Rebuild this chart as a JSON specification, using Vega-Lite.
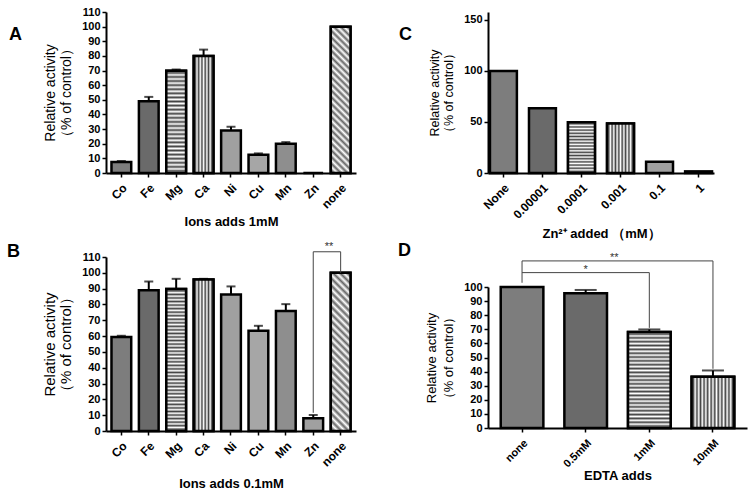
{
  "$schema": "https://vega.github.io/schema/vega-lite/v6.json",
  "padding": {"left": 7, "top": 6, "right": 2, "bottom": 2},
  "background": "white",
  "config": {
    "font": "Liberation Sans",
    "view": {"stroke": null},
    "axis": {
      "domainColor": "black", "domainWidth": 2, "tickColor": "black", "tickWidth": 1.5, "tickSize": 4,
      "labelColor": "black", "labelFont": "Liberation Sans", "labelFontWeight": "bold", "labelFontSize": 11, "labelPadding": 2, "labelOverlap": false,
      "titleFont": "Liberation Sans", "titleColor": "black", "grid": false
    },
    "title": {"font": "Liberation Sans", "fontSize": 18, "fontWeight": "bold", "color": "black", "anchor": "start", "frame": "group", "offset": 0, "baseline": "alphabetic"}
  },
  "datasets": {
    "A": [
      {"cat": "Co", "v": 7.5, "hi": 8.2},
      {"cat": "Fe", "v": 49.1, "hi": 52},
      {"cat": "Mg", "v": 69.8, "hi": 70.7},
      {"cat": "Ca", "v": 80, "hi": 84.3},
      {"cat": "Ni", "v": 29.1, "hi": 31.6},
      {"cat": "Cu", "v": 12.5, "hi": 13.4},
      {"cat": "Mn", "v": 20, "hi": 21.1},
      {"cat": "Zn", "v": 0, "hi": null},
      {"cat": "none", "v": 100, "hi": null}
    ],
    "B": [
      {"cat": "Co", "v": 59.4, "hi": 60.2},
      {"cat": "Fe", "v": 89, "hi": 94.5},
      {"cat": "Mg", "v": 89.7, "hi": 96.2},
      {"cat": "Ca", "v": 95.8, "hi": 96.2},
      {"cat": "Ni", "v": 86.3, "hi": 91.4},
      {"cat": "Cu", "v": 63.4, "hi": 66.5},
      {"cat": "Mn", "v": 75.8, "hi": 80.2},
      {"cat": "Zn", "v": 8, "hi": 10.1},
      {"cat": "none", "v": 100, "hi": null}
    ],
    "C": [
      {"cat": "None", "v": 100},
      {"cat": "0.00001", "v": 63.5},
      {"cat": "0.0001", "v": 49.8},
      {"cat": "0.001", "v": 48.5},
      {"cat": "0.1", "v": 11},
      {"cat": "1", "v": 1.6}
    ],
    "D": [
      {"cat": "none", "v": 100, "hi": null},
      {"cat": "0.5mM", "v": 95.5, "hi": 97.9},
      {"cat": "1mM", "v": 68, "hi": 69.9},
      {"cat": "10mM", "v": 36.3, "hi": 40.8}
    ]
  },
  "bounds": "full",
  "spacing": 42,
  "resolve": {"scale": {"x": "independent", "y": "independent", "fill": "independent"}},
  "hconcat": [
    {
      "bounds": "flush",
      "spacing": 84,
      "resolve": {"scale": {"x": "independent", "y": "independent", "fill": "independent"}},
      "vconcat": [
        {
          "width": 250, "height": 161,
          "title": {"text": "A", "dx": -97, "dy": 42},
          "encoding": {
            "x": {"field": "cat", "type": "nominal",
              "scale": {"domain": ["Co","Fe","Mg","Ca","Ni","Cu","Mn","Zn","none"], "paddingInner": 0.28, "paddingOuter": 0.2},
              "axis": {"title": "Ions adds 1mM", "labelAngle": -45, "labelFontSize": 12, "labelPadding": 5, "titleFontSize": 13, "titleFontWeight": "bold", "titlePadding": 5}},
            "y": {"field": "v", "type": "quantitative", "scale": {"domain": [0, 110], "nice": false},
              "axis": {"values": [0,10,20,30,40,50,60,70,80,90,100,110], "title": ["Relative activity", "（% of control）"], "titleFontSize": 14, "titleFontWeight": "normal", "titleLineHeight": 16, "titlePadding": 8}}
          },
          "layer": [
            {"data": {"name": "A"}, "mark": {"type": "bar", "stroke": "black", "strokeWidth": 2.5},
              "encoding": {
                "fill": {"field": "cat", "type": "nominal", "legend": null,
                  "scale": {"domain": ["Co","Fe","Mg","Ca","Ni","Cu","Mn","Zn","none"], "range": ["#7d7d7d","#6a6a6a","#b4b4b4","#b4b4b4","#a0a0a0","#a6a6a6","#8e8e8e","#a0a0a0","#d2d2d2"]}}
              }},
            {"data": {"name": "A"}, "transform": [{"filter": "datum.cat == 'Mg'"}],
              "mark": {"type": "bar", "stroke": "black", "strokeWidth": 2.5,
                "fill": {"gradient": "linear", "x1": 0, "y1": 0, "x2": 0, "y2": 1, "stops": [{"offset":0,"color":"#fff"},{"offset":0.02,"color":"#444"},{"offset":0.04,"color":"#fff"},{"offset":0.06,"color":"#444"},{"offset":0.08,"color":"#fff"},{"offset":0.1,"color":"#444"},{"offset":0.12,"color":"#fff"},{"offset":0.14,"color":"#444"},{"offset":0.16,"color":"#fff"},{"offset":0.18,"color":"#444"},{"offset":0.2,"color":"#fff"},{"offset":0.22,"color":"#444"},{"offset":0.24,"color":"#fff"},{"offset":0.26,"color":"#444"},{"offset":0.28,"color":"#fff"},{"offset":0.3,"color":"#444"},{"offset":0.32,"color":"#fff"},{"offset":0.34,"color":"#444"},{"offset":0.36,"color":"#fff"},{"offset":0.38,"color":"#444"},{"offset":0.4,"color":"#fff"},{"offset":0.42,"color":"#444"},{"offset":0.44,"color":"#fff"},{"offset":0.46,"color":"#444"},{"offset":0.48,"color":"#fff"},{"offset":0.5,"color":"#444"},{"offset":0.52,"color":"#fff"},{"offset":0.54,"color":"#444"},{"offset":0.56,"color":"#fff"},{"offset":0.58,"color":"#444"},{"offset":0.6,"color":"#fff"},{"offset":0.62,"color":"#444"},{"offset":0.64,"color":"#fff"},{"offset":0.66,"color":"#444"},{"offset":0.68,"color":"#fff"},{"offset":0.7,"color":"#444"},{"offset":0.72,"color":"#fff"},{"offset":0.74,"color":"#444"},{"offset":0.76,"color":"#fff"},{"offset":0.78,"color":"#444"},{"offset":0.8,"color":"#fff"},{"offset":0.82,"color":"#444"},{"offset":0.84,"color":"#fff"},{"offset":0.86,"color":"#444"},{"offset":0.88,"color":"#fff"},{"offset":0.9,"color":"#444"},{"offset":0.92,"color":"#fff"},{"offset":0.94,"color":"#444"},{"offset":0.96,"color":"#fff"},{"offset":0.98,"color":"#444"},{"offset":1,"color":"#fff"}]}}},
            {"data": {"name": "A"}, "transform": [{"filter": "datum.cat == 'Ca'"}],
              "mark": {"type": "bar", "stroke": "black", "strokeWidth": 2.5,
                "fill": {"gradient": "linear", "x1": 0, "y1": 0, "x2": 1, "y2": 0, "stops": [{"offset":0,"color":"#fff"},{"offset":0.0833,"color":"#444"},{"offset":0.1667,"color":"#fff"},{"offset":0.25,"color":"#444"},{"offset":0.3333,"color":"#fff"},{"offset":0.4167,"color":"#444"},{"offset":0.5,"color":"#fff"},{"offset":0.5833,"color":"#444"},{"offset":0.6667,"color":"#fff"},{"offset":0.75,"color":"#444"},{"offset":0.8333,"color":"#fff"},{"offset":0.9167,"color":"#444"},{"offset":1,"color":"#fff"}]}}},
            {"data": {"name": "A"}, "transform": [{"filter": "datum.cat == 'none'"}],
              "mark": {"type": "bar", "stroke": "black", "strokeWidth": 2.5,
                "fill": {"gradient": "linear", "x1": 0, "y1": 1, "x2": 0.149, "y2": -0.114, "stops": [{"offset":0,"color":"#fff"},{"offset":0.02,"color":"#666"},{"offset":0.04,"color":"#fff"},{"offset":0.06,"color":"#666"},{"offset":0.08,"color":"#fff"},{"offset":0.1,"color":"#666"},{"offset":0.12,"color":"#fff"},{"offset":0.14,"color":"#666"},{"offset":0.16,"color":"#fff"},{"offset":0.18,"color":"#666"},{"offset":0.2,"color":"#fff"},{"offset":0.22,"color":"#666"},{"offset":0.24,"color":"#fff"},{"offset":0.26,"color":"#666"},{"offset":0.28,"color":"#fff"},{"offset":0.3,"color":"#666"},{"offset":0.32,"color":"#fff"},{"offset":0.34,"color":"#666"},{"offset":0.36,"color":"#fff"},{"offset":0.38,"color":"#666"},{"offset":0.4,"color":"#fff"},{"offset":0.42,"color":"#666"},{"offset":0.44,"color":"#fff"},{"offset":0.46,"color":"#666"},{"offset":0.48,"color":"#fff"},{"offset":0.5,"color":"#666"},{"offset":0.52,"color":"#fff"},{"offset":0.54,"color":"#666"},{"offset":0.56,"color":"#fff"},{"offset":0.58,"color":"#666"},{"offset":0.6,"color":"#fff"},{"offset":0.62,"color":"#666"},{"offset":0.64,"color":"#fff"},{"offset":0.66,"color":"#666"},{"offset":0.68,"color":"#fff"},{"offset":0.7,"color":"#666"},{"offset":0.72,"color":"#fff"},{"offset":0.74,"color":"#666"},{"offset":0.76,"color":"#fff"},{"offset":0.78,"color":"#666"},{"offset":0.8,"color":"#fff"},{"offset":0.82,"color":"#666"},{"offset":0.84,"color":"#fff"},{"offset":0.86,"color":"#666"},{"offset":0.88,"color":"#fff"},{"offset":0.9,"color":"#666"},{"offset":0.92,"color":"#fff"},{"offset":0.94,"color":"#666"},{"offset":0.96,"color":"#fff"},{"offset":0.98,"color":"#666"},{"offset":1,"color":"#fff"}]}}},
            {"data": {"name": "A"}, "transform": [{"filter": "isValid(datum.hi)"}], "mark": {"type": "rule", "strokeWidth": 2, "color": "black"},
              "encoding": {"y2": {"field": "hi"}}},
            {"data": {"name": "A"}, "transform": [{"filter": "isValid(datum.hi)"}], "mark": {"type": "tick", "thickness": 2, "size": 9, "color": "black"},
              "encoding": {"y": {"field": "hi", "type": "quantitative", "axis": {"values": [0,10,20,30,40,50,60,70,80,90,100,110], "title": ["Relative activity", "（% of control）"], "titleFontSize": 14, "titleFontWeight": "normal", "titleLineHeight": 16, "titlePadding": 8}}}}
          ]
        },
        {
          "width": 250, "height": 174,
          "title": {"text": "B", "dx": -99, "dy": 24},
          "encoding": {
            "x": {"field": "cat", "type": "nominal",
              "scale": {"domain": ["Co","Fe","Mg","Ca","Ni","Cu","Mn","Zn","none"], "paddingInner": 0.28, "paddingOuter": 0.2},
              "axis": {"title": "Ions adds 0.1mM", "labelAngle": -45, "labelFontSize": 12, "labelPadding": 5, "titleFontSize": 13, "titleFontWeight": "bold", "titlePadding": 9}},
            "y": {"field": "v", "type": "quantitative", "scale": {"domain": [0, 110], "nice": false},
              "axis": {"values": [0,10,20,30,40,50,60,70,80,90,100,110], "title": ["Relative activity", "（% of control）"], "titleFontSize": 15, "titleFontWeight": "normal", "titleLineHeight": 16, "titlePadding": 8}}
          },
          "layer": [
            {"data": {"name": "B"}, "mark": {"type": "bar", "stroke": "black", "strokeWidth": 2.5},
              "encoding": {
                "fill": {"field": "cat", "type": "nominal", "legend": null,
                  "scale": {"domain": ["Co","Fe","Mg","Ca","Ni","Cu","Mn","Zn","none"], "range": ["#7d7d7d","#6a6a6a","#b4b4b4","#b4b4b4","#a0a0a0","#a6a6a6","#8e8e8e","#a0a0a0","#d2d2d2"]}}
              }},
            {"data": {"name": "B"}, "transform": [{"filter": "datum.cat == 'Mg'"}],
              "mark": {"type": "bar", "stroke": "black", "strokeWidth": 2.5,
                "fill": {"gradient": "linear", "x1": 0, "y1": 0, "x2": 0, "y2": 1, "stops": [{"offset":0,"color":"#fff"},{"offset":0.0125,"color":"#444"},{"offset":0.025,"color":"#fff"},{"offset":0.0375,"color":"#444"},{"offset":0.05,"color":"#fff"},{"offset":0.0625,"color":"#444"},{"offset":0.075,"color":"#fff"},{"offset":0.0875,"color":"#444"},{"offset":0.1,"color":"#fff"},{"offset":0.1125,"color":"#444"},{"offset":0.125,"color":"#fff"},{"offset":0.1375,"color":"#444"},{"offset":0.15,"color":"#fff"},{"offset":0.1625,"color":"#444"},{"offset":0.175,"color":"#fff"},{"offset":0.1875,"color":"#444"},{"offset":0.2,"color":"#fff"},{"offset":0.2125,"color":"#444"},{"offset":0.225,"color":"#fff"},{"offset":0.2375,"color":"#444"},{"offset":0.25,"color":"#fff"},{"offset":0.2625,"color":"#444"},{"offset":0.275,"color":"#fff"},{"offset":0.2875,"color":"#444"},{"offset":0.3,"color":"#fff"},{"offset":0.3125,"color":"#444"},{"offset":0.325,"color":"#fff"},{"offset":0.3375,"color":"#444"},{"offset":0.35,"color":"#fff"},{"offset":0.3625,"color":"#444"},{"offset":0.375,"color":"#fff"},{"offset":0.3875,"color":"#444"},{"offset":0.4,"color":"#fff"},{"offset":0.4125,"color":"#444"},{"offset":0.425,"color":"#fff"},{"offset":0.4375,"color":"#444"},{"offset":0.45,"color":"#fff"},{"offset":0.4625,"color":"#444"},{"offset":0.475,"color":"#fff"},{"offset":0.4875,"color":"#444"},{"offset":0.5,"color":"#fff"},{"offset":0.5125,"color":"#444"},{"offset":0.525,"color":"#fff"},{"offset":0.5375,"color":"#444"},{"offset":0.55,"color":"#fff"},{"offset":0.5625,"color":"#444"},{"offset":0.575,"color":"#fff"},{"offset":0.5875,"color":"#444"},{"offset":0.6,"color":"#fff"},{"offset":0.6125,"color":"#444"},{"offset":0.625,"color":"#fff"},{"offset":0.6375,"color":"#444"},{"offset":0.65,"color":"#fff"},{"offset":0.6625,"color":"#444"},{"offset":0.675,"color":"#fff"},{"offset":0.6875,"color":"#444"},{"offset":0.7,"color":"#fff"},{"offset":0.7125,"color":"#444"},{"offset":0.725,"color":"#fff"},{"offset":0.7375,"color":"#444"},{"offset":0.75,"color":"#fff"},{"offset":0.7625,"color":"#444"},{"offset":0.775,"color":"#fff"},{"offset":0.7875,"color":"#444"},{"offset":0.8,"color":"#fff"},{"offset":0.8125,"color":"#444"},{"offset":0.825,"color":"#fff"},{"offset":0.8375,"color":"#444"},{"offset":0.85,"color":"#fff"},{"offset":0.8625,"color":"#444"},{"offset":0.875,"color":"#fff"},{"offset":0.8875,"color":"#444"},{"offset":0.9,"color":"#fff"},{"offset":0.9125,"color":"#444"},{"offset":0.925,"color":"#fff"},{"offset":0.9375,"color":"#444"},{"offset":0.95,"color":"#fff"},{"offset":0.9625,"color":"#444"},{"offset":0.975,"color":"#fff"},{"offset":0.9875,"color":"#444"},{"offset":1,"color":"#fff"}]}}},
            {"data": {"name": "B"}, "transform": [{"filter": "datum.cat == 'Ca'"}],
              "mark": {"type": "bar", "stroke": "black", "strokeWidth": 2.5,
                "fill": {"gradient": "linear", "x1": 0, "y1": 0, "x2": 1, "y2": 0, "stops": [{"offset":0,"color":"#fff"},{"offset":0.0833,"color":"#444"},{"offset":0.1667,"color":"#fff"},{"offset":0.25,"color":"#444"},{"offset":0.3333,"color":"#fff"},{"offset":0.4167,"color":"#444"},{"offset":0.5,"color":"#fff"},{"offset":0.5833,"color":"#444"},{"offset":0.6667,"color":"#fff"},{"offset":0.75,"color":"#444"},{"offset":0.8333,"color":"#fff"},{"offset":0.9167,"color":"#444"},{"offset":1,"color":"#fff"}]}}},
            {"data": {"name": "B"}, "transform": [{"filter": "datum.cat == 'none'"}],
              "mark": {"type": "bar", "stroke": "black", "strokeWidth": 2.5,
                "fill": {"gradient": "linear", "x1": 0, "y1": 1, "x2": 0.1385, "y2": -0.108, "stops": [{"offset":0,"color":"#fff"},{"offset":0.02,"color":"#666"},{"offset":0.04,"color":"#fff"},{"offset":0.06,"color":"#666"},{"offset":0.08,"color":"#fff"},{"offset":0.1,"color":"#666"},{"offset":0.12,"color":"#fff"},{"offset":0.14,"color":"#666"},{"offset":0.16,"color":"#fff"},{"offset":0.18,"color":"#666"},{"offset":0.2,"color":"#fff"},{"offset":0.22,"color":"#666"},{"offset":0.24,"color":"#fff"},{"offset":0.26,"color":"#666"},{"offset":0.28,"color":"#fff"},{"offset":0.3,"color":"#666"},{"offset":0.32,"color":"#fff"},{"offset":0.34,"color":"#666"},{"offset":0.36,"color":"#fff"},{"offset":0.38,"color":"#666"},{"offset":0.4,"color":"#fff"},{"offset":0.42,"color":"#666"},{"offset":0.44,"color":"#fff"},{"offset":0.46,"color":"#666"},{"offset":0.48,"color":"#fff"},{"offset":0.5,"color":"#666"},{"offset":0.52,"color":"#fff"},{"offset":0.54,"color":"#666"},{"offset":0.56,"color":"#fff"},{"offset":0.58,"color":"#666"},{"offset":0.6,"color":"#fff"},{"offset":0.62,"color":"#666"},{"offset":0.64,"color":"#fff"},{"offset":0.66,"color":"#666"},{"offset":0.68,"color":"#fff"},{"offset":0.7,"color":"#666"},{"offset":0.72,"color":"#fff"},{"offset":0.74,"color":"#666"},{"offset":0.76,"color":"#fff"},{"offset":0.78,"color":"#666"},{"offset":0.8,"color":"#fff"},{"offset":0.82,"color":"#666"},{"offset":0.84,"color":"#fff"},{"offset":0.86,"color":"#666"},{"offset":0.88,"color":"#fff"},{"offset":0.9,"color":"#666"},{"offset":0.92,"color":"#fff"},{"offset":0.94,"color":"#666"},{"offset":0.96,"color":"#fff"},{"offset":0.98,"color":"#666"},{"offset":1,"color":"#fff"}]}}},
            {"data": {"name": "B"}, "transform": [{"filter": "isValid(datum.hi)"}], "mark": {"type": "rule", "strokeWidth": 2, "color": "black"},
              "encoding": {"y2": {"field": "hi"}}},
            {"data": {"name": "B"}, "transform": [{"filter": "isValid(datum.hi)"}], "mark": {"type": "tick", "thickness": 2, "size": 9, "color": "black"},
              "encoding": {"y": {"field": "hi", "type": "quantitative", "axis": {"values": [0,10,20,30,40,50,60,70,80,90,100,110], "title": ["Relative activity", "（% of control）"], "titleFontSize": 15, "titleFontWeight": "normal", "titleLineHeight": 16, "titlePadding": 8}}}},
            {"data": {"values": [{"cat": "Zn", "cat2": "none", "y": 113.3}]}, "mark": {"type": "rule", "strokeWidth": 1, "color": "#444"},
              "encoding": {"x2": {"field": "cat2"}, "y": {"field": "y", "type": "quantitative", "axis": {"values": [0,10,20,30,40,50,60,70,80,90,100,110], "title": ["Relative activity", "（% of control）"], "titleFontSize": 15, "titleFontWeight": "normal", "titleLineHeight": 16, "titlePadding": 8}}}},
            {"data": {"values": [{"cat": "Zn", "lo": 11.5, "hi": 113.3}, {"cat": "none", "lo": 100, "hi": 113.3}]}, "mark": {"type": "rule", "strokeWidth": 1, "color": "#444"},
              "encoding": {"y": {"field": "lo", "type": "quantitative", "axis": {"values": [0,10,20,30,40,50,60,70,80,90,100,110], "title": ["Relative activity", "（% of control）"], "titleFontSize": 15, "titleFontWeight": "normal", "titleLineHeight": 16, "titlePadding": 8}}, "y2": {"field": "hi"}}},
            {"data": {"values": [{"cat": "Zn", "y": 113.3, "t": "**"}]}, "mark": {"type": "text", "fontSize": 11, "color": "#333", "baseline": "alphabetic", "dy": -2},
              "encoding": {"x": {"field": "cat", "type": "nominal", "bandPosition": 1.3}, "y": {"field": "y", "type": "quantitative", "axis": {"values": [0,10,20,30,40,50,60,70,80,90,100,110], "title": ["Relative activity", "（% of control）"], "titleFontSize": 15, "titleFontWeight": "normal", "titleLineHeight": 16, "titlePadding": 8}}, "text": {"field": "t"}}}
          ]
        }
      ]
    },
    {
      "bounds": "flush",
      "spacing": 114,
      "resolve": {"scale": {"x": "independent", "y": "independent", "fill": "independent"}},
      "vconcat": [
        {
          "width": 226, "height": 161,
          "title": {"text": "C", "dx": -89, "dy": 36},
          "encoding": {
            "x": {"field": "cat", "type": "nominal",
              "scale": {"domain": ["None","0.00001","0.0001","0.001","0.1","1"], "paddingInner": 0.31, "paddingOuter": 0.05},
              "axis": {"title": "Zn²⁺ added （mM）", "labelAngle": -45, "labelFontSize": 12, "labelPadding": 5, "titleFontSize": 13, "titleFontWeight": "bold", "titlePadding": 7}},
            "y": {"field": "v", "type": "quantitative", "scale": {"domain": [0, 157.8], "nice": false},
              "axis": {"values": [0, 50, 100, 150], "title": ["Relative activity", "（% of control）"], "titleFontSize": 12.5, "titleFontWeight": "normal", "titleLineHeight": 14, "titlePadding": 8}}
          },
          "layer": [
            {"data": {"name": "C"}, "mark": {"type": "bar", "stroke": "black", "strokeWidth": 2.5},
              "encoding": {
                "fill": {"field": "cat", "type": "nominal", "legend": null,
                  "scale": {"domain": ["None","0.00001","0.0001","0.001","0.1","1"], "range": ["#7d7d7d","#6a6a6a","#b4b4b4","#b4b4b4","#a0a0a0","#a0a0a0"]}}
              }},
            {"data": {"name": "C"}, "transform": [{"filter": "datum.cat == '0.0001'"}],
              "mark": {"type": "bar", "stroke": "black", "strokeWidth": 2.5,
                "fill": {"gradient": "linear", "x1": 0, "y1": 0, "x2": 0, "y2": 1, "stops": [{"offset":0,"color":"#fff"},{"offset":0.03125,"color":"#444"},{"offset":0.0625,"color":"#fff"},{"offset":0.09375,"color":"#444"},{"offset":0.125,"color":"#fff"},{"offset":0.15625,"color":"#444"},{"offset":0.1875,"color":"#fff"},{"offset":0.21875,"color":"#444"},{"offset":0.25,"color":"#fff"},{"offset":0.28125,"color":"#444"},{"offset":0.3125,"color":"#fff"},{"offset":0.34375,"color":"#444"},{"offset":0.375,"color":"#fff"},{"offset":0.40625,"color":"#444"},{"offset":0.4375,"color":"#fff"},{"offset":0.46875,"color":"#444"},{"offset":0.5,"color":"#fff"},{"offset":0.53125,"color":"#444"},{"offset":0.5625,"color":"#fff"},{"offset":0.59375,"color":"#444"},{"offset":0.625,"color":"#fff"},{"offset":0.65625,"color":"#444"},{"offset":0.6875,"color":"#fff"},{"offset":0.71875,"color":"#444"},{"offset":0.75,"color":"#fff"},{"offset":0.78125,"color":"#444"},{"offset":0.8125,"color":"#fff"},{"offset":0.84375,"color":"#444"},{"offset":0.875,"color":"#fff"},{"offset":0.90625,"color":"#444"},{"offset":0.9375,"color":"#fff"},{"offset":0.96875,"color":"#444"},{"offset":1,"color":"#fff"}]}}},
            {"data": {"name": "C"}, "transform": [{"filter": "datum.cat == '0.001'"}],
              "mark": {"type": "bar", "stroke": "black", "strokeWidth": 2.5,
                "fill": {"gradient": "linear", "x1": 0, "y1": 0, "x2": 1, "y2": 0, "stops": [{"offset":0,"color":"#fff"},{"offset":0.0625,"color":"#444"},{"offset":0.125,"color":"#fff"},{"offset":0.1875,"color":"#444"},{"offset":0.25,"color":"#fff"},{"offset":0.3125,"color":"#444"},{"offset":0.375,"color":"#fff"},{"offset":0.4375,"color":"#444"},{"offset":0.5,"color":"#fff"},{"offset":0.5625,"color":"#444"},{"offset":0.625,"color":"#fff"},{"offset":0.6875,"color":"#444"},{"offset":0.75,"color":"#fff"},{"offset":0.8125,"color":"#444"},{"offset":0.875,"color":"#fff"},{"offset":0.9375,"color":"#444"},{"offset":1,"color":"#fff"}]}}}
          ]
        },
        {
          "width": 259, "height": 141,
          "title": {"text": "D", "dx": -90, "dy": 12},
          "encoding": {
            "x": {"field": "cat", "type": "nominal",
              "scale": {"domain": ["none","0.5mM","1mM","10mM"], "paddingInner": 0.33, "paddingOuter": 0.2},
              "axis": {"title": "EDTA adds", "labelAngle": -45, "labelFontSize": 11, "labelPadding": 5, "titleFontSize": 13, "titleFontWeight": "bold", "titlePadding": 1}},
            "y": {"field": "v", "type": "quantitative", "scale": {"domain": [0, 100], "nice": false},
              "axis": {"values": [0,10,20,30,40,50,60,70,80,90,100], "title": ["Relative activity", "（% of control）"], "titleFontSize": 13, "titleFontWeight": "normal", "titleLineHeight": 17, "titlePadding": 8}}
          },
          "layer": [
            {"data": {"name": "D"}, "mark": {"type": "bar", "stroke": "black", "strokeWidth": 2.5},
              "encoding": {
                "fill": {"field": "cat", "type": "nominal", "legend": null,
                  "scale": {"domain": ["none","0.5mM","1mM","10mM"], "range": ["#7d7d7d","#6a6a6a","#b4b4b4","#b4b4b4"]}}
              }},
            {"data": {"name": "D"}, "transform": [{"filter": "datum.cat == '1mM'"}],
              "mark": {"type": "bar", "stroke": "black", "strokeWidth": 2.5,
                "fill": {"gradient": "linear", "x1": 0, "y1": 0, "x2": 0, "y2": 1, "stops": [{"offset":0,"color":"#fff"},{"offset":0.02,"color":"#444"},{"offset":0.04,"color":"#fff"},{"offset":0.06,"color":"#444"},{"offset":0.08,"color":"#fff"},{"offset":0.1,"color":"#444"},{"offset":0.12,"color":"#fff"},{"offset":0.14,"color":"#444"},{"offset":0.16,"color":"#fff"},{"offset":0.18,"color":"#444"},{"offset":0.2,"color":"#fff"},{"offset":0.22,"color":"#444"},{"offset":0.24,"color":"#fff"},{"offset":0.26,"color":"#444"},{"offset":0.28,"color":"#fff"},{"offset":0.3,"color":"#444"},{"offset":0.32,"color":"#fff"},{"offset":0.34,"color":"#444"},{"offset":0.36,"color":"#fff"},{"offset":0.38,"color":"#444"},{"offset":0.4,"color":"#fff"},{"offset":0.42,"color":"#444"},{"offset":0.44,"color":"#fff"},{"offset":0.46,"color":"#444"},{"offset":0.48,"color":"#fff"},{"offset":0.5,"color":"#444"},{"offset":0.52,"color":"#fff"},{"offset":0.54,"color":"#444"},{"offset":0.56,"color":"#fff"},{"offset":0.58,"color":"#444"},{"offset":0.6,"color":"#fff"},{"offset":0.62,"color":"#444"},{"offset":0.64,"color":"#fff"},{"offset":0.66,"color":"#444"},{"offset":0.68,"color":"#fff"},{"offset":0.7,"color":"#444"},{"offset":0.72,"color":"#fff"},{"offset":0.74,"color":"#444"},{"offset":0.76,"color":"#fff"},{"offset":0.78,"color":"#444"},{"offset":0.8,"color":"#fff"},{"offset":0.82,"color":"#444"},{"offset":0.84,"color":"#fff"},{"offset":0.86,"color":"#444"},{"offset":0.88,"color":"#fff"},{"offset":0.9,"color":"#444"},{"offset":0.92,"color":"#fff"},{"offset":0.94,"color":"#444"},{"offset":0.96,"color":"#fff"},{"offset":0.98,"color":"#444"},{"offset":1,"color":"#fff"}]}}},
            {"data": {"name": "D"}, "transform": [{"filter": "datum.cat == '10mM'"}],
              "mark": {"type": "bar", "stroke": "black", "strokeWidth": 2.5,
                "fill": {"gradient": "linear", "x1": 0, "y1": 0, "x2": 1, "y2": 0, "stops": [{"offset":0,"color":"#fff"},{"offset":0.0417,"color":"#444"},{"offset":0.0833,"color":"#fff"},{"offset":0.125,"color":"#444"},{"offset":0.1667,"color":"#fff"},{"offset":0.2083,"color":"#444"},{"offset":0.25,"color":"#fff"},{"offset":0.2917,"color":"#444"},{"offset":0.3333,"color":"#fff"},{"offset":0.375,"color":"#444"},{"offset":0.4167,"color":"#fff"},{"offset":0.4583,"color":"#444"},{"offset":0.5,"color":"#fff"},{"offset":0.5417,"color":"#444"},{"offset":0.5833,"color":"#fff"},{"offset":0.625,"color":"#444"},{"offset":0.6667,"color":"#fff"},{"offset":0.7083,"color":"#444"},{"offset":0.75,"color":"#fff"},{"offset":0.7917,"color":"#444"},{"offset":0.8333,"color":"#fff"},{"offset":0.875,"color":"#444"},{"offset":0.9167,"color":"#fff"},{"offset":0.9583,"color":"#444"},{"offset":1,"color":"#fff"}]}}},
            {"data": {"name": "D"}, "transform": [{"filter": "isValid(datum.hi)"}], "mark": {"type": "rule", "strokeWidth": 2, "color": "black"},
              "encoding": {"y2": {"field": "hi"}}},
            {"data": {"name": "D"}, "transform": [{"filter": "isValid(datum.hi)"}], "mark": {"type": "tick", "thickness": 2, "size": 22, "color": "black"},
              "encoding": {"y": {"field": "hi", "type": "quantitative", "axis": {"values": [0,10,20,30,40,50,60,70,80,90,100], "title": ["Relative activity", "（% of control）"], "titleFontSize": 13, "titleFontWeight": "normal", "titleLineHeight": 17, "titlePadding": 8}}}},
            {"data": {"values": [{"cat": "none", "cat2": "1mM", "y": 110.2}, {"cat": "none", "cat2": "10mM", "y": 118.5}]}, "mark": {"type": "rule", "strokeWidth": 1, "color": "#444"},
              "encoding": {"x2": {"field": "cat2"}, "y": {"field": "y", "type": "quantitative", "axis": {"values": [0,10,20,30,40,50,60,70,80,90,100], "title": ["Relative activity", "（% of control）"], "titleFontSize": 13, "titleFontWeight": "normal", "titleLineHeight": 17, "titlePadding": 8}}}},
            {"data": {"values": [{"cat": "none", "lo": 103, "hi": 118.5}, {"cat": "1mM", "lo": 71, "hi": 110.2}, {"cat": "10mM", "lo": 42, "hi": 118.5}]}, "mark": {"type": "rule", "strokeWidth": 1, "color": "#444"},
              "encoding": {"y": {"field": "lo", "type": "quantitative", "axis": {"values": [0,10,20,30,40,50,60,70,80,90,100], "title": ["Relative activity", "（% of control）"], "titleFontSize": 13, "titleFontWeight": "normal", "titleLineHeight": 17, "titlePadding": 8}}, "y2": {"field": "hi"}}},
            {"data": {"values": [{"cat": "0.5mM", "y": 110.2, "t": "*"}]}, "mark": {"type": "text", "fontSize": 11, "color": "#333", "baseline": "alphabetic"},
              "encoding": {"y": {"field": "y", "type": "quantitative", "axis": {"values": [0,10,20,30,40,50,60,70,80,90,100], "title": ["Relative activity", "（% of control）"], "titleFontSize": 13, "titleFontWeight": "normal", "titleLineHeight": 17, "titlePadding": 8}}, "text": {"field": "t"}}},
            {"data": {"values": [{"cat": "0.5mM", "y": 118.5, "t": "**"}]}, "mark": {"type": "text", "fontSize": 11, "color": "#333", "baseline": "alphabetic"},
              "encoding": {"x": {"field": "cat", "type": "nominal", "bandPosition": 1.17}, "y": {"field": "y", "type": "quantitative", "axis": {"values": [0,10,20,30,40,50,60,70,80,90,100], "title": ["Relative activity", "（% of control）"], "titleFontSize": 13, "titleFontWeight": "normal", "titleLineHeight": 17, "titlePadding": 8}}, "text": {"field": "t"}}}
          ]
        }
      ]
    }
  ]
}
